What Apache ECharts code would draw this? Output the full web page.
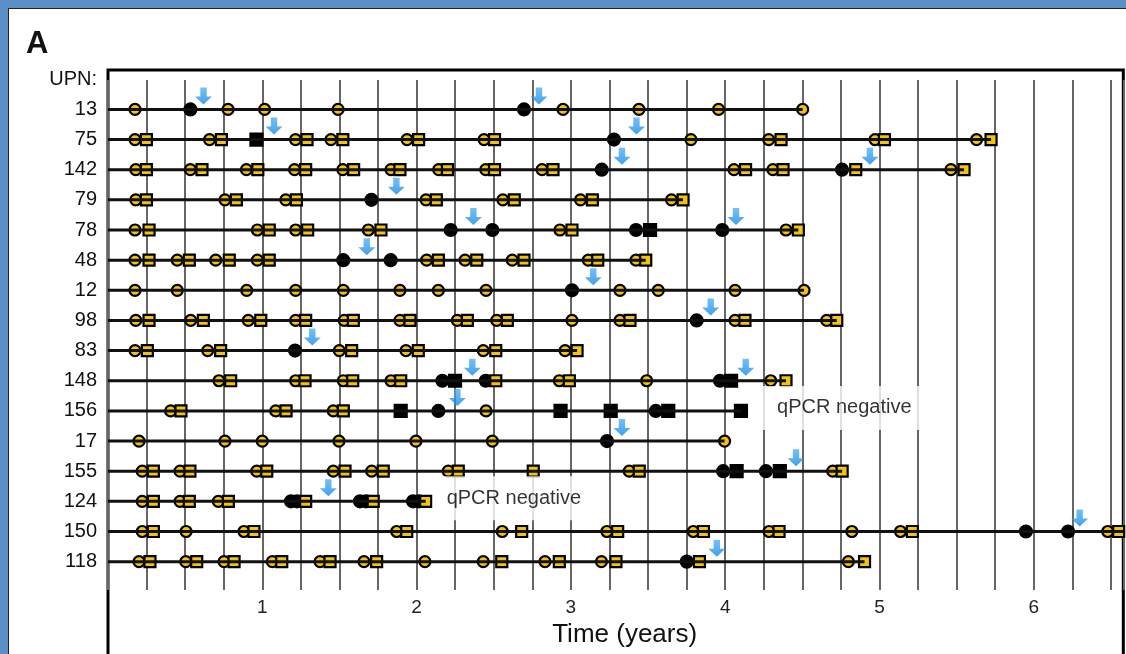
<!DOCTYPE html>
<html>
<head>
<meta charset="utf-8">
<script src="https://cdn.jsdelivr.net/npm/echarts@6/dist/echarts.min.js"></script>
<style>
  html, body { margin: 0; padding: 0; }
  body { width: 1126px; height: 654px; background: #5a8fc7; position: relative; overflow: hidden; }
  #panel { position: absolute; left: 8px; top: 8px; width: 1118px; height: 646px; background: #fff; border-left: 1px solid #222; border-top: 1px solid #222; box-sizing: border-box; }
  #chart { position: absolute; left: 0; top: 0; width: 1126px; height: 654px; }
</style>
</head>
<body>
<div id="panel"></div>
<div id="chart"></div>
<script>
// patients (rows, top to bottom)
const upn = ['13', '75', '142', '79', '78', '48', '12', '98', '83', '148', '156', '17', '155', '124', '150', '118']
// where each patient's follow-up line stops (years)
const lineEnd = [4.502, 5.723, 5.548, 3.727, 4.474, 3.485, 4.511, 4.723, 3.04, 4.394, 4.102, 3.996, 4.758, 2.059, 6.58, 4.903]

// sample times (years) per row
const yellowCircle = [
  [0.175, 0.778, 1.015, 1.491, 2.949, 3.441, 3.957, 4.502],
  [0.175, 0.658, 1.215, 1.445, 1.938, 2.437, 3.778, 4.282, 4.971, 5.629],
  [0.18, 0.534, 0.897, 1.209, 1.522, 1.834, 2.143, 2.448, 2.813, 4.057, 4.309, 5.463],
  [0.18, 0.758, 1.152, 2.061, 2.559, 3.062, 3.652],
  [0.175, 0.968, 1.216, 1.687, 2.929, 4.394],
  [0.175, 0.449, 0.698, 0.968, 2.065, 2.314, 2.62, 3.113, 3.422],
  [0.175, 0.449, 0.899, 1.216, 1.525, 1.892, 2.141, 2.45, 3.318, 3.566, 4.064, 4.511],
  [0.18, 0.536, 0.909, 1.216, 1.531, 1.892, 2.264, 2.519, 3.007, 3.318, 4.064, 4.658],
  [0.175, 0.646, 1.499, 1.931, 2.432, 2.962],
  [0.719, 1.216, 1.525, 1.834, 2.925, 3.491, 4.295],
  [0.406, 1.087, 1.46, 2.45],
  [0.201, 0.758, 1.0, 1.497, 1.996, 2.491, 3.996],
  [0.222, 0.467, 0.964, 1.46, 1.709, 2.205, 3.378, 4.697],
  [0.222, 0.467, 0.715],
  [0.222, 0.506, 0.881, 1.871, 2.555, 3.233, 3.793, 4.284, 4.821, 5.136, 6.479],
  [0.201, 0.504, 0.752, 1.065, 1.374, 1.659, 2.054, 2.432, 2.832, 3.198, 4.798]
]
const yellowSquare = [
  [],
  [0.249, 0.735, 1.29, 1.522, 2.013, 2.505, 4.362, 5.032, 5.723],
  [0.249, 0.609, 0.971, 1.281, 1.592, 1.892, 2.2, 2.505, 2.884, 4.132, 4.375, 4.846, 5.548],
  [0.249, 0.832, 1.221, 2.128, 2.633, 3.139, 3.727],
  [0.266, 1.045, 1.294, 1.769, 3.007, 4.474],
  [0.266, 0.527, 0.786, 1.045, 2.141, 2.39, 2.696, 3.174, 3.485],
  [],
  [0.266, 0.618, 0.99, 1.281, 1.59, 1.957, 2.329, 2.588, 3.383, 4.128, 4.723],
  [0.255, 0.73, 1.579, 2.011, 2.513, 3.04],
  [0.795, 1.277, 1.586, 1.897, 2.513, 2.99, 4.394],
  [0.473, 1.154, 1.525],
  [],
  [0.294, 0.531, 1.029, 1.536, 1.784, 2.27, 2.756, 3.443, 4.758],
  [0.294, 0.527, 0.78, 1.281, 1.719, 2.059],
  [0.294, 0.946, 1.936, 2.681, 3.303, 3.859, 4.349, 5.213, 6.55],
  [0.272, 0.575, 0.817, 1.126, 1.439, 1.741, 2.552, 2.925, 3.292, 3.833, 4.903]
]
const blackCircle = [
  [0.534, 2.696], [3.279], [3.2, 4.757], [1.707], [2.221, 2.491, 3.422, 3.981],
  [1.525, 1.832], [3.007], [3.815], [1.212], [2.167, 2.448, 3.966], [2.141, 3.55],
  [3.234], [3.987, 4.264], [1.186, 1.225, 1.633, 1.672, 1.977, 2.015], [5.949, 6.222], [3.751]
]
const blackSquare = [
  [], [0.962], [], [], [3.513], [], [], [], [], [2.249, 4.038],
  [1.897, 2.933, 3.258, 3.631, 4.102], [], [4.074, 4.354], [], [], []
]
// blue arrows
const arrows = [
  [0.619, 2.793], [1.076, 3.425], [3.331, 4.938], [1.869], [2.368, 4.07], [1.677],
  [3.145], [3.906], [1.324], [2.361, 4.133], [2.264], [3.331], [4.459], [1.428], [6.297], [3.946]
]
const notes = [
  { row: 10, t: 4.245, text: 'qPCR negative' },
  { row: 13, t: 2.104, text: 'qPCR negative' }
]

const font = '"Liberation Sans", Arial, sans-serif'
const toPoints = rows => rows.flatMap((ts, i) => ts.map(t => [t, i]))

const series = []
lineEnd.forEach((end, i) => {
  series.push({
    type: 'line',
    data: [[0, i], [end, i]],
    symbol: 'none',
    lineStyle: { color: '#111', width: 3 },
    silent: true
  })
})

const dot = (data, symbol, size, color) => ({
  type: 'scatter',
  data: toPoints(data),
  symbol: symbol,
  symbolSize: size,
  itemStyle: { color: color, borderColor: '#000', borderWidth: 2.2, opacity: 1 },
  silent: true
})
series.push(dot(yellowCircle, 'circle', 11, '#f2c40d'))
series.push(dot(blackCircle, 'circle', 12, '#000'))
series.push(dot(yellowSquare, 'rect', 11, '#f2c40d'))
series.push(dot(blackSquare, 'rect', 12, '#000'))
series.push({
  type: 'scatter',
  data: toPoints(arrows),
  symbol: 'path://M5,0 L11,0 L11,9 L16,9 L8,17 L0,9 L5,9 Z',
  symbolSize: [17, 17],
  symbolOffset: [0, -13.5],
  itemStyle: {
    color: {
      type: 'linear', x: 0, y: 0, x2: 0, y2: 1,
      colorStops: [{ offset: 0, color: '#4fb2f5' }, { offset: 1, color: '#1689e6' }]
    }
  },
  silent: true
})
series.push({
  type: 'scatter',
  data: notes.map(n => ({ value: [n.t, n.row], name: n.text })),
  symbolSize: 0,
  z: 5,
  label: {
    show: true,
    position: 'right',
    distance: 0,
    offset: [0, -3],
    formatter: p => p.name,
    fontFamily: font,
    fontSize: 20,
    color: '#000',
    backgroundColor: '#fff',
    padding: [12, 8, 12, 14]
  },
  silent: true
})

const chart = echarts.init(document.getElementById('chart'), null, { renderer: 'canvas' })
chart.setOption({
  animation: false,
  backgroundColor: 'transparent',
  title: {
    text: 'A',
    left: 21,
    top: 24,
    textStyle: { fontFamily: font, fontSize: 31, fontWeight: 'bold', color: '#111' }
  },
  grid: [
    {
      // data area with the box border (bottom edge falls outside the picture)
      left: 108, right: 2.7, top: 70, bottom: -10,
      outerBoundsMode: 'none',
      show: true, borderColor: '#000', borderWidth: 3, backgroundColor: 'transparent'
    },
    {
      // vertical guide lines and the time axis
      left: 108, right: 2.7, top: 80, bottom: 64,
      outerBoundsMode: 'none'
    }
  ],
  xAxis: [
    {
      gridIndex: 0, type: 'value', min: 0, max: 6.58,
      show: false
    },
    {
      gridIndex: 1, type: 'value', min: 0, max: 6.58, interval: 0.25,
      axisLine: { show: false },
      axisTick: { show: false },
      splitLine: { show: true, lineStyle: { color: '#666', width: 2 } },
      axisLabel: {
        margin: 8,
        fontFamily: font,
        fontSize: 19,
        color: '#222',
        formatter: v => (Number.isInteger(v) && v > 0 ? String(v) : '')
      },
      name: 'Time (years)',
      nameLocation: 'middle',
      nameGap: 30,
      nameTextStyle: { fontFamily: font, fontSize: 26, color: '#111', padding: [0, 0, 0, 18] }
    }
  ],
  yAxis: [
    {
      gridIndex: 0,
      type: 'value',
      inverse: true,
      min: -1.307,
      max: 18.395,
      axisLine: { show: false },
      axisTick: { show: false },
      splitLine: { show: false },
      axisLabel: {
        customValues: [-1].concat(upn.map((u, i) => i)),
        margin: 11,
        fontFamily: font,
        fontSize: 20,
        color: '#111',
        formatter: v => (v === -1 ? 'UPN:' : (upn[v] || ''))
      }
    },
    {
      gridIndex: 1, type: 'value', min: 0, max: 1, show: false
    }
  ],
  series: series
})
</script>
</body>
</html>
